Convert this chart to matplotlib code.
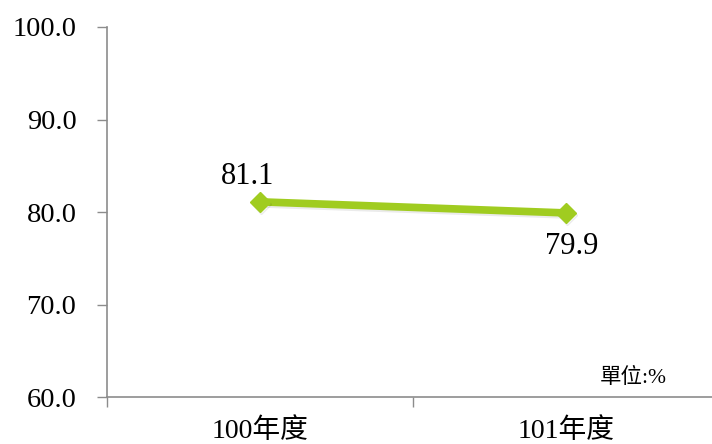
import matplotlib
matplotlib.use("Agg")
import matplotlib.pyplot as plt
import matplotlib.patheffects as pe

categories = ["100年度", "101年度"]
values = [81.1, 79.9]
y_ticks = [60, 70, 80, 90, 100]

fonts = ["Liberation Serif", "Noto Sans CJK TC", "DejaVu Sans"]
plt.rcParams["font.family"] = fonts

W, H = 712, 444
fig = plt.figure(figsize=(W / 100, H / 100), dpi=100)
ax = fig.add_axes([107 / W, (H - 397) / H, 612 / W, 370 / H])

green = "#A0CC20"
x = list(range(len(categories)))
ax.plot(x, values, color=green, lw=5.5, marker="D", markersize=10,
        markerfacecolor=green, markeredgecolor=green, solid_capstyle="butt",
        path_effects=[pe.SimpleLineShadow(offset=(1, -1.5), alpha=0.08), pe.Normal()],
        zorder=3)

ax.annotate(f"{values[0]:.1f}", (x[0], values[0]), xytext=(-9, 18),
            textcoords="offset points", ha="center", va="center", fontsize=22)
ax.annotate(f"{values[1]:.1f}", (x[1], values[1]), xytext=(4, -24),
            textcoords="offset points", ha="center", va="center", fontsize=22)

ax.set_ylim(60, 100)
ax.set_xlim(-0.5, len(categories) - 0.5)
ax.set_yticks(y_ticks)
ax.set_yticklabels([f"{v:.1f}" for v in y_ticks], fontsize=20.5)

ax.set_xticks([-0.5, 0.5, 1.5])
ax.set_xticklabels([])
ax.set_xticks(x, minor=True)
ax.set_xticklabels(categories, minor=True, fontsize=20)
ax.tick_params(axis="x", which="minor", length=0, pad=15)
ax.tick_params(axis="x", which="major", length=7, width=1, color="#8c8c8c", direction="out")
ax.tick_params(axis="y", length=7, width=1, color="#8c8c8c", direction="out", pad=15)

for s in ["top", "right"]:
    ax.spines[s].set_visible(False)
for s in ["left", "bottom"]:
    ax.spines[s].set_color("#8c8c8c")
    ax.spines[s].set_linewidth(1.2)

ax.text(633 / W, (H - 378) / H, "單位:%", transform=fig.transFigure,
        ha="center", va="center", fontsize=15.5)

fig.savefig("out.png", dpi=100)
